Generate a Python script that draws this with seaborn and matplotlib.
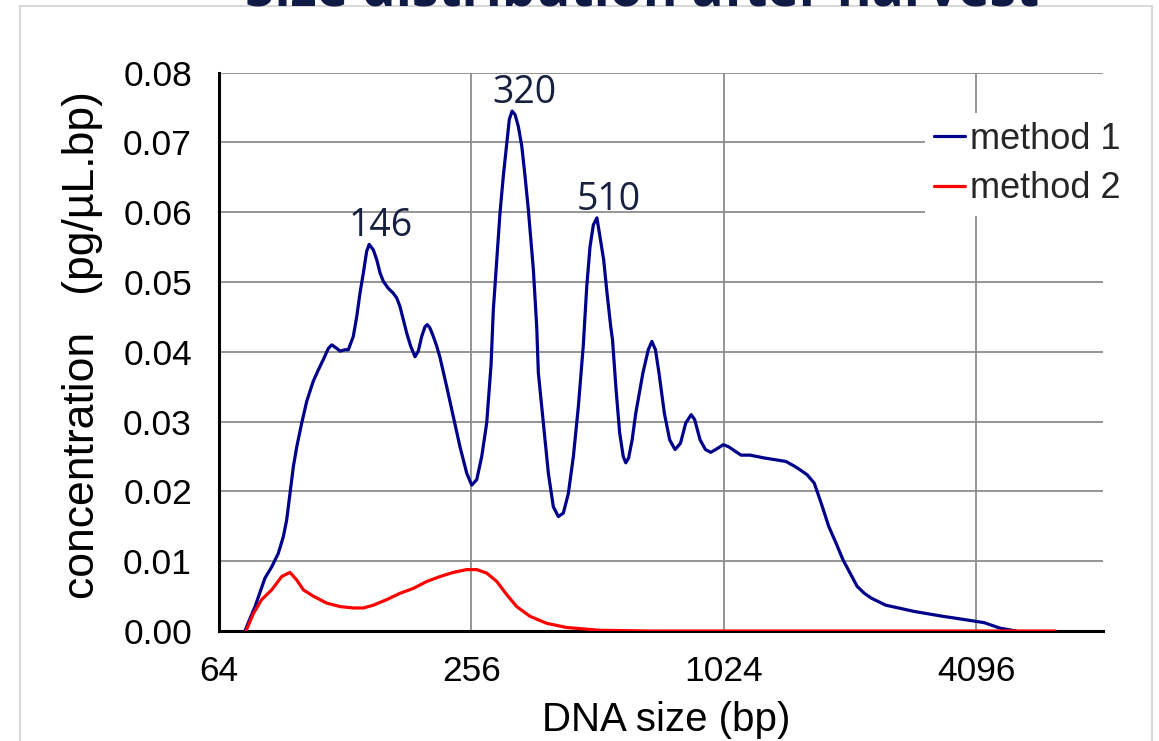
import matplotlib
matplotlib.use("Agg")
import numpy as np
import pandas as pd
import matplotlib.pyplot as plt
from matplotlib.patches import Rectangle
import seaborn as sns

# ---- data -------------------------------------------------------------
size_m1 = [73.8, 75.9, 78.0, 80.2, 82.4, 85.5, 88.6, 91.1, 92.8, 94.5,
           96.3, 98.1, 100.8, 103.6, 107.4, 110.4, 113.5, 116.7, 118.9, 122.2,
           124.4, 127.9, 130.2, 133.8, 136.4, 138.8, 141.4, 144.0, 146, 149.4,
           152.2, 155.0, 157.8, 162.2, 166.7, 169.9, 172.9, 176.1, 179.4, 183.4,
           187.8, 191.2, 194.8, 198.4, 200.9, 203.9, 207.7, 211.6, 215.4, 223.5,
           231.8, 240.4, 249.5, 256.4, 263.6, 270.9, 278.4, 285.1, 288.7, 294.2,
           299.5, 305.0, 310.8, 315.2, 320, 325.3, 331.2, 337.5, 343.6, 349.9,
           359.7, 366.4, 369.7, 379.9, 390.6, 401.4, 412.6, 424.1, 435.9, 448.1,
           460.6, 473.3, 482.3, 491.1, 500.1, 510, 529.2, 539.1, 550.2, 555.6,
           566.5, 577.8, 589.3, 597.5, 607.0, 618.8, 631.2, 656.6, 676.1, 689.6,
           703.3, 717.0, 738.6, 760.4, 783.2, 806.9, 830.7, 855.7, 872.2, 898.6,
           925.5, 953.0, 991.3, 1021, 1051, 1093, 1125, 1183, 1277, 1439,
           1511, 1556, 1617, 1682, 1748, 1821, 1896, 1970, 2048, 2129,
           2215, 2303, 2491, 2915, 3411, 3686, 4275, 4668, 5097]
conc_m1 = [0.0, 0.0018, 0.0035, 0.0056, 0.0076, 0.0092, 0.0111, 0.0135, 0.0159, 0.0197,
           0.0236, 0.0264, 0.0298, 0.0329, 0.0358, 0.0374, 0.0389, 0.0405, 0.0410, 0.0405,
           0.0401, 0.0403, 0.0403, 0.0422, 0.0451, 0.0484, 0.0513, 0.0544, 0.0554, 0.0546,
           0.0532, 0.0513, 0.0501, 0.0491, 0.0484, 0.0477, 0.0465, 0.0446, 0.0427, 0.0408,
           0.0393, 0.0401, 0.0422, 0.0436, 0.0439, 0.0434, 0.0422, 0.0408, 0.0392, 0.0350,
           0.0307, 0.0264, 0.0226, 0.0209, 0.0217, 0.0250, 0.0298, 0.0381, 0.0460, 0.0532,
           0.0599, 0.0652, 0.0699, 0.0733, 0.0745, 0.0740, 0.0723, 0.0695, 0.0652, 0.0604,
           0.0518, 0.0436, 0.0370, 0.0298, 0.0226, 0.0178, 0.0164, 0.0169, 0.0197, 0.0250,
           0.0322, 0.0410, 0.0494, 0.0551, 0.0582, 0.0592, 0.0532, 0.0484, 0.0436, 0.0417,
           0.0346, 0.0284, 0.0250, 0.0241, 0.0248, 0.0274, 0.0312, 0.0370, 0.0403, 0.0415,
           0.0403, 0.0370, 0.0312, 0.0274, 0.0260, 0.0269, 0.0298, 0.0310, 0.0303, 0.0274,
           0.0260, 0.0256, 0.0262, 0.0267, 0.0264, 0.0257, 0.0252, 0.0252, 0.0248, 0.0243,
           0.0236, 0.0231, 0.0224, 0.0212, 0.0183, 0.0150, 0.0126, 0.0102, 0.0083, 0.0064,
           0.0054, 0.0047, 0.0037, 0.0028, 0.0021, 0.0018, 0.0012, 0.0004, 0.0]

size_m2 = [74.2, 77.3, 80.9, 85.5, 90.3, 94.5, 98.1, 101.7, 107.4, 115.6,
           124.4, 133.8, 141.4, 149.4, 160.8, 172.9, 186.0, 200.3, 215.4, 231.8,
           249.5, 263.6, 278.4, 294.2, 310.8, 328.3, 353.2, 387.1, 432.1, 518.8,
           682.7, 6317]
conc_m2 = [0.0, 0.0025, 0.0045, 0.0059, 0.0078, 0.0084, 0.0073, 0.0059, 0.0050, 0.0040,
           0.0035, 0.0033, 0.0033, 0.0037, 0.0045, 0.0054, 0.0061, 0.0071, 0.0078, 0.0084,
           0.0088, 0.0088, 0.0083, 0.0071, 0.0052, 0.0035, 0.0021, 0.0011, 0.0005, 0.0001,
           0.0, 0.0]

series_names = ["method 1", "method 2"]
series_colors = ["#00008b", "#ff0000"]

peak_sizes = [146, 320, 510]
peak_concs = [0.0554, 0.0745, 0.0592]

x_ticks = [64, 256, 1024, 4096]
y_ticks = [0.00, 0.01, 0.02, 0.03, 0.04, 0.05, 0.06, 0.07, 0.08]

title_text = "Size distribution after harvest"
x_label = "DNA size (bp)"
y_label = "concentration   (pg/\u00b5L.bp)"

df = pd.concat([
    pd.DataFrame({"size": size_m1, "conc": conc_m1, "method": series_names[0]}),
    pd.DataFrame({"size": size_m2, "conc": conc_m2, "method": series_names[1]}),
], ignore_index=True)

# ---- style ------------------------------------------------------------
sns.set_theme(style="white")
plt.rcParams["font.family"] = ["Liberation Sans", "DejaVu Sans"]

W, H = 1159, 741
fig = plt.figure(figsize=(W / 100, H / 100), dpi=100)
fig.patch.set_facecolor("white")

# light frame around the whole chart area
fig.patches.append(Rectangle((20 / W, -0.02), (1152 - 20) / W, 1.02 - 6 / H,
                             transform=fig.transFigure, fill=False,
                             edgecolor="#d9d9d9", linewidth=1.5, zorder=0))

ax_l, ax_r, ax_t, ax_b = 219, 1102.5, 72.7, 631
ax = fig.add_axes([ax_l / W, 1 - ax_b / H, (ax_r - ax_l) / W, (ax_b - ax_t) / H])

sns.lineplot(data=df, x="size", y="conc", hue="method",
             palette=dict(zip(series_names, series_colors)),
             sort=False, estimator=None, linewidth=2.3, ax=ax, zorder=3)
for ln in ax.get_lines():
    ln.set_solid_joinstyle("round")
    ln.set_solid_capstyle("round")

ax.set_xscale("log", base=2)
ax.set_xlim(64, 8192)
ax.set_ylim(0, 0.08)
ax.set_xticks(x_ticks)
ax.set_xticklabels([str(t) for t in x_ticks])
ax.set_yticks(y_ticks)
ax.set_yticklabels([f"{t:.2f}" for t in y_ticks])
ax.xaxis.set_minor_locator(matplotlib.ticker.NullLocator())

# grid: horizontal at every y tick, vertical at x ticks
for yv in y_ticks[1:]:
    ax.axhline(yv, color="#8c8c8c", linewidth=1.3, zorder=1)
for xv in x_ticks[1:]:
    ax.axvline(xv, color="#8c8c8c", linewidth=1.3, zorder=1)

for side in ["top", "right"]:
    ax.spines[side].set_visible(False)
for side in ["left", "bottom"]:
    ax.spines[side].set_color("black")
    ax.spines[side].set_linewidth(2.2)
    ax.spines[side].set_zorder(2)

ax.tick_params(axis="both", which="major", direction="inout", length=15,
               width=2.2, color="black", labelsize=25.5, labelcolor="black")
ax.tick_params(axis="y", pad=12)
ax.tick_params(axis="x", pad=10)

ax.set_xlabel(x_label, fontsize=29, color="black")
ax.set_ylabel(y_label, fontsize=32, color="black")
ax.xaxis.set_label_coords(0.5 + 5 / (ax_r - ax_l), -(701 - ax_b) / (ax_b - ax_t))
ax.yaxis.set_label_coords(-(219 - 103) / (ax_r - ax_l), 0.513)

# peak annotations
for sx, cy in zip(peak_sizes, peak_concs):
    ax.annotate(str(sx), xy=(sx, cy), xytext=(12, -1), textcoords="offset pixels",
                ha="center", va="bottom", fontsize=27, color="#17203f",
                family=["Open Sans", "DejaVu Sans"], zorder=4)

# legend
handles, labels = ax.get_legend_handles_labels()
leg = ax.legend(handles, labels, loc="upper left",
                bbox_to_anchor=(925 / W, 1 - 113 / H), bbox_transform=fig.transFigure,
                frameon=True, fancybox=False, facecolor="white", edgecolor="none",
                framealpha=1, fontsize=26, handlelength=0.85, handletextpad=0.15,
                labelspacing=0.4, borderpad=0.25, borderaxespad=0)
leg.set_zorder(5)
for line in leg.get_lines():
    line.set_linewidth(2.3)

# title, mostly running off the top of the canvas
fig.text(642 / W, 1 - 5 / H, title_text, ha="center", va="baseline",
         fontsize=38.3, fontweight="bold", color="#0f1a45",
         family=["Open Sans", "DejaVu Sans"])

fig.savefig("out.png", dpi=100, facecolor="white")
